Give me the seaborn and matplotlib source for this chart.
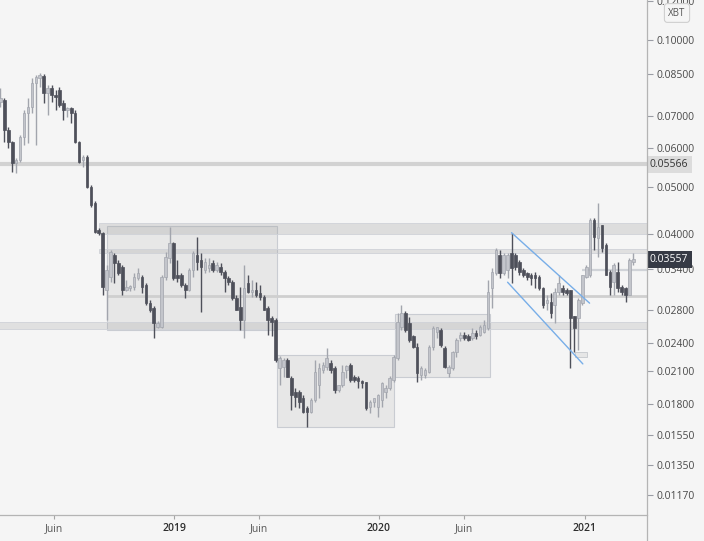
import numpy as np
import pandas as pd
import matplotlib
matplotlib.use("Agg")
import matplotlib.pyplot as plt
import matplotlib.dates as mdates
from matplotlib.patches import Rectangle
from matplotlib.transforms import blended_transform_factory
import seaborn as sns

# ---------------- data (ETH / XBT weekly) ----------------
start_week = "2018-02-26"

open_ = [0.0747,0.0754,0.0654,0.0618,0.0560,0.0568,0.0633,0.0709,0.0729,0.0817,
         0.0836,0.0844,0.0779,0.0798,0.0771,0.0790,0.0743,0.0719,0.0726,0.0709,
         0.0618,0.0568,0.0576,0.0500,0.0463,0.0408,0.0403,0.0307,0.0327,0.0363,
         0.0349,0.0343,0.0307,0.0310,0.0312,0.0325,0.0327,0.0315,0.0289,0.0283,
         0.0258,0.0258,0.0327,0.0358,0.0384,0.0330,0.0330,0.0315,0.0307,0.0338,
         0.0363,0.0354,0.0338,0.0341,0.0349,0.0338,0.0343,0.0335,0.0325,0.0319,
         0.0296,0.0284,0.0267,0.0318,0.0304,0.0307,0.0303,0.0297,0.0283,0.0270,
         0.0267,0.0213,0.0214,0.0221,0.0203,0.0190,0.0190,0.0185,0.0176,0.0173,
         0.0183,0.0196,0.0211,0.0214,0.0218,0.0213,0.0192,0.0196,0.0211,0.0216,
         0.0204,0.0203,0.0200,0.0199,0.0177,0.0181,0.0177,0.0183,0.0190,0.0194,
         0.0201,0.0223,0.0258,0.0276,0.0263,0.0247,0.0235,0.0206,0.0206,0.0209,
         0.0235,0.0252,0.0255,0.0234,0.0208,0.0213,0.0230,0.0245,0.0249,0.0247,
         0.0245,0.0251,0.0249,0.0252,0.0257,0.0310,0.0333,0.0363,0.0333,0.0338,
         0.0366,0.0363,0.0351,0.0338,0.0333,0.0330,0.0330,0.0327,0.0310,0.0289,
         0.0290,0.0286,0.0304,0.0310,0.0307,0.0307,0.0272,0.0270,0.0289,0.0327,
         0.0330,0.0428,0.0393,0.0418,0.0380,0.0335,0.0319,0.0335,0.0312,0.0310,
         0.0300,0.0351]

close = [0.0761,0.0654,0.0618,0.0560,0.0568,0.0633,0.0709,0.0729,0.0817,0.0840,
         0.0848,0.0779,0.0798,0.0771,0.0764,0.0736,0.0719,0.0726,0.0709,0.0618,
         0.0563,0.0576,0.0500,0.0459,0.0404,0.0403,0.0312,0.0338,0.0368,0.0349,
         0.0333,0.0307,0.0312,0.0313,0.0327,0.0333,0.0312,0.0289,0.0280,0.0263,
         0.0263,0.0327,0.0360,0.0384,0.0325,0.0325,0.0315,0.0307,0.0338,0.0366,
         0.0351,0.0343,0.0351,0.0346,0.0338,0.0346,0.0335,0.0325,0.0319,0.0296,
         0.0280,0.0267,0.0310,0.0304,0.0307,0.0300,0.0297,0.0280,0.0267,0.0265,
         0.0221,0.0223,0.0221,0.0204,0.0187,0.0186,0.0181,0.0173,0.0173,0.0183,
         0.0209,0.0213,0.0216,0.0223,0.0211,0.0192,0.0196,0.0209,0.0215,0.0201,
         0.0201,0.0200,0.0198,0.0176,0.0181,0.0185,0.0187,0.0198,0.0194,0.0203,
         0.0224,0.0265,0.0276,0.0255,0.0243,0.0235,0.0208,0.0213,0.0211,0.0235,
         0.0257,0.0258,0.0237,0.0214,0.0214,0.0230,0.0243,0.0249,0.0245,0.0243,
         0.0251,0.0247,0.0258,0.0261,0.0304,0.0335,0.0371,0.0333,0.0363,0.0363,
         0.0341,0.0343,0.0335,0.0330,0.0327,0.0325,0.0325,0.0310,0.0286,0.0293,
         0.0276,0.0304,0.0318,0.0304,0.0303,0.0270,0.0257,0.0293,0.0330,0.0343,
         0.0428,0.0395,0.0414,0.0375,0.0330,0.0312,0.0346,0.0310,0.0304,0.0300,
         0.0354,0.03557]

high = [0.0798,0.0761,0.0664,0.0621,0.0573,0.0639,0.0719,0.0761,0.0836,0.0848,
        0.0856,0.0852,0.0809,0.0809,0.0790,0.0801,0.0754,0.0729,0.0729,0.0719,
        0.0621,0.0581,0.0581,0.0505,0.0468,0.0412,0.0404,0.0346,0.0371,0.0366,
        0.0354,0.0346,0.0322,0.0315,0.0333,0.0341,0.0330,0.0318,0.0293,0.0285,
        0.0266,0.0330,0.0368,0.0414,0.0385,0.0354,0.0333,0.0318,0.0341,0.0369,
        0.0395,0.0366,0.0358,0.0358,0.0354,0.0351,0.0349,0.0338,0.0328,0.0322,
        0.0300,0.0312,0.0346,0.0330,0.0322,0.0319,0.0315,0.0300,0.0285,0.0272,
        0.0270,0.0225,0.0223,0.0223,0.0205,0.0194,0.0192,0.0187,0.0178,0.0185,
        0.0221,0.0218,0.0219,0.0234,0.0221,0.0215,0.0196,0.0216,0.0216,0.0218,
        0.0206,0.0205,0.0201,0.0199,0.0183,0.0185,0.0188,0.0199,0.0196,0.0205,
        0.0226,0.0276,0.0286,0.0279,0.0271,0.0249,0.0239,0.0215,0.0213,0.0237,
        0.0260,0.0258,0.0257,0.0236,0.0216,0.0231,0.0245,0.0252,0.0252,0.0250,
        0.0257,0.0255,0.0261,0.0267,0.0322,0.0341,0.0375,0.0371,0.0366,0.0366,
        0.0403,0.0366,0.0354,0.0341,0.0335,0.0333,0.0335,0.0330,0.0312,0.0300,
        0.0303,0.0310,0.0330,0.0315,0.0310,0.0307,0.0272,0.0296,0.0330,0.0346,
        0.0432,0.0432,0.0463,0.0418,0.0384,0.0338,0.0349,0.0351,0.0315,0.0312,
        0.0358,0.0366]

low = [0.0729,0.0618,0.0601,0.0537,0.0534,0.0563,0.0609,0.0615,0.0709,0.0609,
       0.0801,0.0743,0.0702,0.0747,0.0719,0.0729,0.0686,0.0695,0.0676,0.0615,
       0.0560,0.0550,0.0498,0.0455,0.0402,0.0399,0.0300,0.0267,0.0319,0.0318,
       0.0330,0.0300,0.0306,0.0306,0.0307,0.0322,0.0303,0.0286,0.0277,0.0245,
       0.0257,0.0257,0.0322,0.0349,0.0322,0.0319,0.0312,0.0296,0.0306,0.0327,
       0.0338,0.0277,0.0333,0.0335,0.0335,0.0335,0.0330,0.0304,0.0315,0.0293,
       0.0280,0.0255,0.0245,0.0303,0.0297,0.0297,0.0294,0.0280,0.0249,0.0247,
       0.0219,0.0196,0.0204,0.0204,0.0175,0.0177,0.0176,0.0172,0.0161,0.0172,
       0.0181,0.0185,0.0208,0.0211,0.0208,0.0189,0.0190,0.0195,0.0203,0.0199,
       0.0199,0.0194,0.0194,0.0175,0.0172,0.0177,0.0169,0.0177,0.0185,0.0192,
       0.0199,0.0221,0.0255,0.0252,0.0241,0.0234,0.0199,0.0201,0.0203,0.0208,
       0.0232,0.0245,0.0235,0.0213,0.0204,0.0211,0.0224,0.0242,0.0243,0.0242,
       0.0243,0.0244,0.0247,0.0251,0.0255,0.0283,0.0330,0.0325,0.0330,0.0325,
       0.0318,0.0338,0.0330,0.0327,0.0322,0.0315,0.0310,0.0307,0.0283,0.0280,
       0.0270,0.0263,0.0300,0.0300,0.0300,0.0213,0.0230,0.0232,0.0286,0.0325,
       0.0327,0.0371,0.0360,0.0368,0.0330,0.0300,0.0300,0.0304,0.0300,0.0290,
       0.0300,0.0346]

# price axis ticks
price_ticks = [0.0117, 0.0135, 0.0155, 0.018, 0.021, 0.024, 0.028, 0.034,
               0.04, 0.05, 0.06, 0.07, 0.085, 0.10, 0.12]
# time axis
time_ticks = ["2018-06-01", "2019-01-01", "2019-06-01", "2020-01-01", "2020-06-01", "2021-01-01"]
time_labels = ["Juin", "2019", "Juin", "2020", "Juin", "2021"]

# drawn zones: (start, end, low price, high price)
boxes = [("2018-09-03", "2019-07-03", 0.0255, 0.0416),
         ("2019-07-03", "2020-01-28", 0.0161, 0.0226),
         ("2020-01-29", "2020-07-16", 0.0204, 0.0274)]
bands = [("2018-08-20", 0.0401, 0.0422, 0.25),
         ("2018-08-20", 0.0366, 0.0373, 0.22),
         ("2018-02-20", 0.0256, 0.0265, 0.22)]
hlines = [("2018-02-20", 0.05566, 3.0, "#d2d2d2"),
          ("2018-09-03", 0.0299, 2.0, "#cfcfcf"),
          ("2020-12-28", 0.0338, 1.6, "#d0d3d8")]
channel_upper = (["2020-08-24", "2021-01-10"], [0.0403, 0.0289])
channel_lower = (["2020-08-17", "2020-12-29"], [0.0319, 0.0217])
small_box = ("2020-12-15", "2021-01-05", 0.0224, 0.0229)

last_price = 0.03557
marked_level = 0.05566

# ---------------- style ----------------
BG = "#f5f5f5"
sns.set_theme(style="white", rc={"axes.facecolor": BG, "figure.facecolor": BG,
                                 "savefig.facecolor": BG})
plt.rcParams["font.family"] = ["Open Sans", "DejaVu Sans"]

W, H = 704, 541
fig = plt.figure(figsize=(W / 100, H / 100), dpi=100)
ax = fig.add_axes([0, 26 / H, 647 / W, 515 / H])
ax.set_facecolor(BG)

dates = pd.date_range(start_week, periods=len(close), freq="W-MON")
xd = mdates.date2num(dates.to_pydatetime())
o = np.array(open_); c = np.array(close)
hi = np.maximum(np.array(high), np.maximum(o, c))
lo = np.minimum(np.array(low), np.minimum(o, c))

up = c >= o
UP_FACE, UP_EDGE = "#c3c5cb", "#a2a5ad"
DN_COL = "#4e505a"
face = np.where(up, UP_FACE, DN_COL)
edge = np.where(up, UP_EDGE, DN_COL)

ax.set_yscale("log")
ref = mdates.date2num(pd.Timestamp("2019-01-01").to_pydatetime())
px_per_day = 0.5616
ax.set_xlim(ref - 174 / px_per_day, ref + (647 - 174) / px_per_day)
ax.set_ylim(0.1 * np.exp(-(515 - 40) / 212), 0.1 * np.exp(40 / 212))
xmax = ax.get_xlim()[1]

def dn(s):
    return mdates.date2num(pd.Timestamp(s).to_pydatetime())

# zones
for s, e, p0, p1 in boxes:
    ax.add_patch(Rectangle((dn(s), p0), dn(e) - dn(s), p1 - p0,
                           facecolor=(0.6, 0.6, 0.6, 0.15), edgecolor="#c9ccd2",
                           linewidth=0.8, zorder=1))
for s, p0, p1, a in bands:
    ax.add_patch(Rectangle((dn(s), p0), xmax - dn(s), p1 - p0,
                           facecolor=(0.6, 0.6, 0.6, a), edgecolor="#cfd2d8",
                           linewidth=0.6, zorder=1))
for s, p, lw, col in hlines:
    ax.plot([dn(s), xmax], [p, p], color=col, lw=lw, zorder=1,
            solid_capstyle="butt")
ax.add_patch(Rectangle((dn(small_box[0]), small_box[2]),
                       dn(small_box[1]) - dn(small_box[0]), small_box[3] - small_box[2],
                       facecolor="#e6e6e6", edgecolor="#c4c7cc", linewidth=0.6, zorder=1))

# candles
ax.vlines(xd, lo, hi, colors=edge, linewidth=1.0, zorder=3)
body_lo = np.minimum(o, c)
body_h = np.abs(c - o)
ax.bar(xd, body_h, bottom=body_lo, width=4.6, color=face, edgecolor=edge,
       linewidth=0.5, zorder=4)

# channel
for xs, ys in (channel_upper, channel_lower):
    ax.plot([dn(x) for x in xs], ys, color="#78aee8", lw=1.0, zorder=5)

# axes styling
for sp in ["top", "left", "right"]:
    ax.spines[sp].set_visible(False)
ax.spines["bottom"].set_color("#b4b4b4")
ax.spines["bottom"].set_linewidth(0.9)

ax.yaxis.tick_right()
ax.yaxis.set_major_locator(matplotlib.ticker.FixedLocator(price_ticks))
ax.yaxis.set_minor_locator(matplotlib.ticker.NullLocator())
ax.set_yticklabels([f"{t:.5f}" for t in price_ticks])
ax.tick_params(axis="y", which="major", right=True, left=False, direction="out",
               length=4, width=0.8, color="#9a9da5", labelsize=7.5,
               labelcolor="#4a4a4a", pad=3)

ax.set_xticks([dn(t) for t in time_ticks])
ax.set_xticklabels(time_labels)
ax.tick_params(axis="x", bottom=True, direction="out", length=3, width=0.8,
               color="#a5a5a5", labelsize=7.5, labelcolor="#555555", pad=3)
for lab in ax.get_xticklabels():
    if lab.get_text().isdigit():
        lab.set_color("#2e2e2e")
        lab.set_fontweight("semibold")
ax.grid(False)

# right axis separator line across the whole height
fig.add_artist(plt.Line2D([647 / W, 647 / W], [0, 1], transform=fig.transFigure,
                          color="#b4b4b4", lw=0.9))

trans = blended_transform_factory(ax.transAxes, ax.transData)
ax.text(1.0 + 3 / 647, marked_level, f"{marked_level:.5f}", transform=trans,
        ha="left", va="center", fontsize=7.5, color="#333333", zorder=10,
        clip_on=False,
        bbox=dict(boxstyle="square,pad=0.3", fc="#dcdcdc", ec="none"))
ax.text(1.0 + 3 / 647, last_price, f"{last_price:.5f}", transform=trans,
        ha="left", va="center", fontsize=7.5, color="white", zorder=10,
        clip_on=False,
        bbox=dict(boxstyle="square,pad=0.3", fc="#363a45", ec="none"))

fig.text(677 / W, 1 - 13 / H, "XBT", ha="center", va="center", fontsize=7,
         color="#555555", zorder=20,
         bbox=dict(boxstyle="round,pad=0.4,rounding_size=0.3", fc=BG, ec="#cfcfcf", lw=0.8))

fig.savefig("out.png", dpi=100)
